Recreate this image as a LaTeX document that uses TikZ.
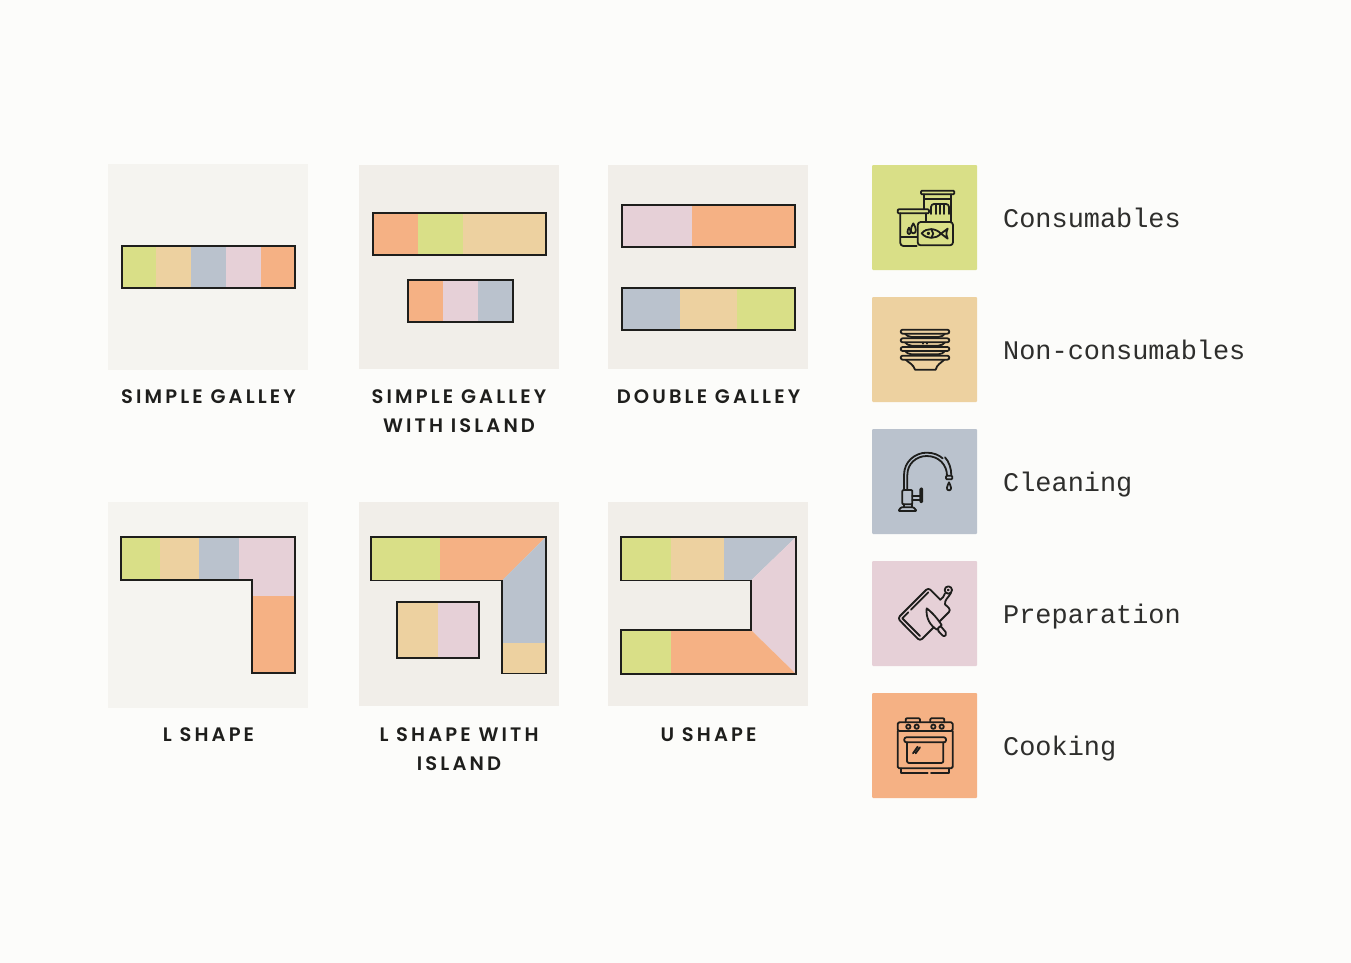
\documentclass[tikz,border=0pt]{standalone}
\usepackage{fontspec}
\setmainfont{Poppins}
\newfontfamily\labfont[LetterSpace=16,UprightFont={* SemiBold}]{Poppins}
\setmonofont{Liberation Mono}
\definecolor{bgc}{HTML}{FCFCFA}
\definecolor{pa}{HTML}{F5F4F0}
\definecolor{pb}{HTML}{F1EEE9}
\definecolor{gc}{HTML}{D9DF87}
\definecolor{tc}{HTML}{EDD1A0}
\definecolor{bc}{HTML}{BAC2CD}
\definecolor{kc}{HTML}{E6D0D7}
\definecolor{oc}{HTML}{F5B184}
\definecolor{ink}{HTML}{1E1E1C}
\definecolor{inksoft}{HTML}{2E2E2C}
\tikzset{
  outl/.style={draw=ink,line width=1.4pt,line join=miter},
  lab/.style={font=\labfont\fontsize{19.5}{29}\selectfont,text=ink,align=center,inner sep=0pt},
  leg/.style={font=\ttfamily\fontsize{26.9}{30}\selectfont,text=inksoft,anchor=base west,inner sep=0pt},
  ico/.style={draw=ink,line width=1.8pt,line cap=round,line join=round},
  swatch/.style={rounded corners=1pt},
}
\begin{document}
\begin{tikzpicture}[x=1pt,y=-1pt]
\useasboundingbox (0,0) rectangle (1351,963);
\fill[bgc] (0,0) rectangle (1351,963);
% panels
\fill[pa] (108,164) rectangle (308,370);
\fill[pb] (359,165) rectangle (559,369);
\fill[pb] (608,165) rectangle (808,369);
\fill[pa] (108,502) rectangle (308,708);
\fill[pb] (359,502) rectangle (559,706);
\fill[pb] (608,502) rectangle (808,706);
% simple galley
\fill[gc] (122,246) rectangle (156,288);
\fill[tc] (156,246) rectangle (191,288);
\fill[bc] (191,246) rectangle (226,288);
\fill[kc] (226,246) rectangle (261,288);
\fill[oc] (261,246) rectangle (295,288);
\draw[outl] (122,246) rectangle (295,288);
% simple galley with island
\fill[oc] (373,213) rectangle (418,255);
\fill[gc] (418,213) rectangle (463,255);
\fill[tc] (463,213) rectangle (546,255);
\draw[outl] (373,213) rectangle (546,255);
\fill[oc] (408,280) rectangle (443,322);
\fill[kc] (443,280) rectangle (478,322);
\fill[bc] (478,280) rectangle (513,322);
\draw[outl] (408,280) rectangle (513,322);
% double galley
\fill[kc] (622,205) rectangle (692,247);
\fill[oc] (692,205) rectangle (795,247);
\draw[outl] (622,205) rectangle (795,247);
\fill[bc] (622,288) rectangle (680,330);
\fill[tc] (680,288) rectangle (737,330);
\fill[gc] (737,288) rectangle (795,330);
\draw[outl] (622,288) rectangle (795,330);
% L shape
\fill[gc] (121,537) rectangle (160,580);
\fill[tc] (160,537) rectangle (199,580);
\fill[bc] (199,537) rectangle (239,580);
\fill[kc] (239,537) -- (295,537) -- (295,596) -- (252,596) -- (252,580) -- (239,580) -- cycle;
\fill[oc] (252,596) rectangle (295,673);
\draw[outl] (121,537) -- (295,537) -- (295,673) -- (252,673) -- (252,580) -- (121,580) -- cycle;
% L shape with island
\fill[gc] (371,537) rectangle (440,580.5);
\fill[oc] (440,537) -- (546,537) -- (502,580.5) -- (440,580.5) -- cycle;
\fill[bc] (546,537) -- (546,643) -- (502,643) -- (502,580.5) -- cycle;
\fill[tc] (502,643) rectangle (546,673.5);
\draw[outl] (371,537) -- (546,537) -- (546,673.5) -- (502,673.5) -- (502,580.5) -- (371,580.5) -- cycle;
\fill[tc] (397,602) rectangle (438,658);
\fill[kc] (438,602) rectangle (479,658);
\draw[outl] (397,602) rectangle (479,658);
% U shape
\fill[gc] (621,537) rectangle (671,580.5);
\fill[tc] (671,537) rectangle (724,580.5);
\fill[bc] (724,537) -- (796,537) -- (751,580.5) -- (724,580.5) -- cycle;
\fill[kc] (796,537) -- (796,674) -- (751,630) -- (751,580.5) -- cycle;
\fill[gc] (621,630) rectangle (671,674);
\fill[oc] (671,630) -- (751,630) -- (796,674) -- (671,674) -- cycle;
\draw[outl] (621,537) -- (796,537) -- (796,674) -- (621,674) -- (621,630) -- (751,630) -- (751,580.5) -- (621,580.5) -- cycle;
% labels
\node[lab] (t1) at (208.5,397) {SIMPLE GALLEY};
\node[lab] (t2) at (459,411.5) {SIMPLE GALLEY\\WITH ISLAND};
\node[lab] (t3) at (708.5,397) {DOUBLE GALLEY};
\node[lab] (t4) at (208.5,735) {L SHAPE};
\node[lab] (t5) at (459,749.5) {L SHAPE WITH\\ISLAND};
\node[lab] (t6) at (708.5,735) {U SHAPE};
% legend
\fill[gc,swatch] (872,165) rectangle (977,270);
\fill[tc,swatch] (872,297) rectangle (977,402);
\fill[bc,swatch] (872,429) rectangle (977,534);
\fill[kc,swatch] (872,561) rectangle (977,666);
\fill[oc,swatch] (872,693) rectangle (977,798);
\node[leg] (c1) at (1003,227.8) {Consumables};
\node[leg] (c2) at (1003,359.8) {Non-consumables};
\node[leg] (c3) at (1003,491.8) {Cleaning};
\node[leg] (c4) at (1003,623.8) {Preparation};
\node[leg] (c5) at (1003,755.8) {Cooking};
% consumables icon
\begin{scope}[shift={(865,160)},x=0.3333pt,y=-0.3333pt]
\draw[ico,rounded corners=1pt] (168,92) rectangle (268,103);
\draw[ico] (178,103) -- (178,148) (258,103) -- (258,186) (178,118) -- (258,118);
\draw[ico,rounded corners=3pt] (198,162) -- (198,132) -- (252,132) -- (252,162);
\draw[ico] (212,132) -- (212,162) (225,132) -- (225,162) (238,132) -- (238,162);
\draw[ico,rounded corners=1pt] (98,148) rectangle (192,160);
\draw[ico,rounded corners=3pt] (155,258) -- (106,258) -- (106,160);
\draw[ico] (184,160) -- (184,186);
\draw[ico] (108,230) -- (155,230);
\draw[ico] (145,190) .. controls (155,205) and (155,220) .. (145,220) .. controls (135,220) and (135,205) .. (145,190);
\draw[ico] (132,203) .. controls (138,212) and (138,222) .. (132,222) .. controls (126,222) and (126,212) .. (132,203);
\draw[ico,rounded corners=3pt,fill=gc] (158,186) rectangle (264,256);
\draw[ico] (170,220) .. controls (185,202) and (212,204) .. (228,221) .. controls (212,238) and (185,238) .. (170,220) -- cycle;
\draw[ico] (228,221) -- (248,206) .. controls (243,216) and (243,226) .. (248,236) -- cycle;
\draw[ico,fill=ink] (190,220) circle[radius=2.5];
\draw[ico] (200,210) .. controls (206,216) and (206,226) .. (200,232);
\end{scope}
% non-consumables icon
\begin{scope}[shift={(865,295)},x=0.3333pt,y=-0.3333pt]
\foreach \y in {104,130,156}{
  \draw[ico] (120,\y+12) .. controls (125,\y+18) and (130,\y+21) .. (140,\y+22) -- (220,\y+22) .. controls (230,\y+21) and (235,\y+18) .. (240,\y+12);
}
\draw[ico] (122,194) .. controls (132,204) and (145,208) .. (150,224) -- (212,224) .. controls (216,208) and (228,204) .. (238,194);
\foreach \y in {104,130,156,182}{
  \draw[ico,fill=tc,rounded corners=2pt] (107,\y) rectangle (253,\y+12);
}
\draw[ico] (174,143) -- (174,146) (185,143) -- (185,146);
\end{scope}
% cleaning icon
\begin{scope}[shift={(865,425)},x=0.3333pt,y=-0.3333pt]
\draw[ico] (117,195) -- (117,150) .. controls (117,110) and (150,83) .. (185,83) .. controls (205,83) and (222,90) .. (233,100);
\draw[ico] (127,195) -- (127,150) .. controls (127,115) and (155,93) .. (185,93) .. controls (222,93) and (246,120) .. (246,152);
\draw[ico] (240,97) .. controls (252,110) and (259,130) .. (259,152);
\draw[ico,rounded corners=1pt] (243,152) rectangle (262,163);
\draw[ico] (252,172) .. controls (258,184) and (262,196) .. (252,196) .. controls (242,196) and (246,184) .. (252,172) -- cycle;
\draw[ico,rounded corners=1pt] (112,195) -- (142,195) -- (142,238) -- (112,238) -- cycle;
\draw[ico] (142,212) -- (166,212) (142,226) -- (166,226);
\draw[ico,rounded corners=1pt] (166,190) rectangle (172,232);
\draw[ico] (118,238) -- (118,247) (140,238) -- (140,247);
\draw[ico,rounded corners=1pt] (100,258) -- (108,247) -- (146,247) -- (155,258) -- cycle;
\end{scope}
% preparation icon
\begin{scope}[shift={(865,555)},x=0.3333pt,y=-0.3333pt]
\draw[ico,rounded corners=3pt] (226,134) -- (190,98) -- (98,190) -- (165,258) -- (258,165) -- (240,148);
\draw[ico] (226,134) .. controls (232,130) and (238,124) .. (240,115);
\draw[ico] (240,148) .. controls (238,135) and (250,128) .. (258,114);
\draw[ico] (250,105) circle[radius=11];
\draw[ico,fill=ink] (250,105) circle[radius=1.5];
\draw[ico] (190,112) -- (138,164) (130,172) -- (112,190) -- (165,243);
\draw[ico,fill=kc] (185,160) .. controls (205,175) and (220,195) .. (230,210) -- (216,224) .. controls (196,212) and (182,190) .. (185,160) -- cycle;
\draw[ico,fill=kc,rounded corners=2pt] (226,212) -- (246,236) -- (237,246) -- (216,224) -- cycle;
\end{scope}
% cooking icon
\begin{scope}[shift={(865,685)},x=0.3333pt,y=-0.3333pt]
\draw[ico,rounded corners=1.5pt] (98,112) rectangle (263,138);
\draw[ico,rounded corners=1.5pt] (98,138) -- (98,250) -- (263,250) -- (263,138);
\draw[ico,rounded corners=1pt] (122,112) -- (122,100) -- (165,100) -- (165,112);
\draw[ico,rounded corners=1pt] (196,112) -- (196,100) -- (238,100) -- (238,112);
\foreach \x in {130,155,205,230}{\draw[ico] (\x,125) circle[radius=6.5];}
\draw[ico,fill=oc,rounded corners=2pt] (118,157) rectangle (243,172);
\draw[ico,rounded corners=2pt] (126,172) -- (126,234) -- (235,234) -- (235,172);
\draw[ico] (144,205) -- (158,185) (152,205) -- (165,187);
\draw[ico] (108,250) -- (108,265) -- (188,265) (198,265) -- (252,265) -- (252,250);
\end{scope}
\end{tikzpicture}
\end{document}
